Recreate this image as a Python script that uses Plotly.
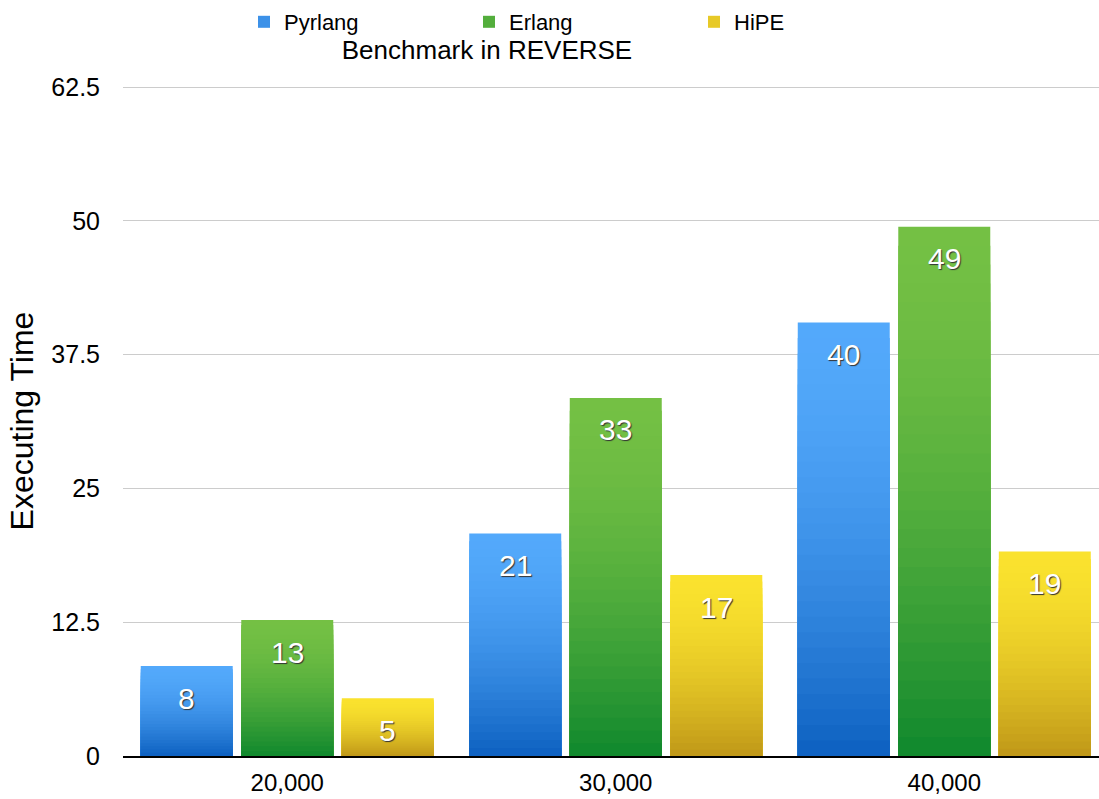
import plotly.graph_objects as go

# ---- data ----
categories = ["20,000", "30,000", "40,000"]
series_names = ["Pyrlang", "Erlang", "HiPE"]
pyrlang = [8.4, 20.8, 40.5]
erlang = [12.7, 33.45, 49.45]
hipe = [5.4, 16.9, 19.1]
y_tick_vals = [0, 12.5, 25, 37.5, 50, 62.5]
y_tick_text = ["0", "12.5", "25", "37.5", "50", "62.5"]

series_values = [pyrlang, erlang, hipe]
# (top colour, bottom colour) of each series' vertical gradient
gradient_colors = [("#53a9fb", "#0d60c0"), ("#74c044", "#0f882d"), ("#fae22e", "#bf9718")]

FONT = "Liberation Sans, Arial, sans-serif"
K = 28            # number of gradient layers per bar
BARGAP = 0.082
BARGROUPGAP = 0.085


def hex2rgb(h):
    h = h.lstrip("#")
    return tuple(int(h[i:i + 2], 16) for i in (0, 2, 4))


def mix(c1, c2, t):
    a, b = hex2rgb(c1), hex2rgb(c2)
    return "rgb(%d,%d,%d)" % tuple(round(a[i] + (b[i] - a[i]) * t) for i in range(3))


fig = go.Figure()
for name, vals, (top, bottom) in zip(series_names, series_values, gradient_colors):
    for k in range(K):
        frac = (K - k) / K
        t = ((k + 0.5) / K) ** 1.7
        fig.add_trace(go.Bar(
            x=categories,
            y=[v * frac for v in vals],
            name=name,
            legendgroup=name,
            offsetgroup=name,
            showlegend=(k == K // 2),
            marker=dict(color=mix(top, bottom, t), line=dict(width=0)),
            hoverinfo="skip" if k else "y+name",
        ))

# value labels inside the top of each bar
n = len(series_names)
slot = (1 - BARGAP) / n
annotations = []
for i, vals in enumerate(series_values):
    for j, v in enumerate(vals):
        annotations.append(dict(
            x=j + (i - (n - 1) / 2) * slot, xref="x",
            y=v, yref="y", yshift=-32,
            text=f"{v:.0f}", showarrow=False,
            xanchor="center", yanchor="middle",
            font=dict(family=FONT, size=30, color="white", shadow="1px 1px 1px #333333"),
        ))

fig.update_layout(
    template="none",
    width=1099, height=799,
    margin=dict(l=123, r=0, t=86, b=43),
    paper_bgcolor="white", plot_bgcolor="white",
    barmode="group", bargap=BARGAP, bargroupgap=BARGROUPGAP,
    font=dict(family=FONT, color="black"),
    title=dict(text="Benchmark in REVERSE", x=487 / 1099, xanchor="center", xref="container",
               y=1 - 50 / 799, yanchor="middle", yref="container",
               font=dict(family=FONT, size=26, color="black")),
    legend=dict(orientation="h", xref="container", yref="container",
                x=244 / 1099, xanchor="left", y=1 - 22 / 799, yanchor="middle",
                font=dict(family=FONT, size=22, color="black"),
                entrywidth=180, entrywidthmode="pixels",
                bgcolor="rgba(0,0,0,0)", traceorder="normal"),
    xaxis=dict(type="category", range=[-0.5, 2.471], showgrid=False, zeroline=False,
               showline=True, linecolor="black", linewidth=2, ticks="",
               ticklabelstandoff=4, automargin=False,
               tickfont=dict(family=FONT, size=24, color="black")),
    yaxis=dict(range=[0, 62.6], tickmode="array", tickvals=y_tick_vals, ticktext=y_tick_text,
               showgrid=True, gridcolor="#cccccc", gridwidth=1, zeroline=False,
               showline=False, ticks="", ticklabelstandoff=22, automargin=False,
               tickfont=dict(family=FONT, size=25, color="black"),
               title=dict(text="Executing Time", standoff=8,
                          font=dict(family=FONT, size=32, color="black"))),
    annotations=annotations,
)

fig.write_html("out.html")
